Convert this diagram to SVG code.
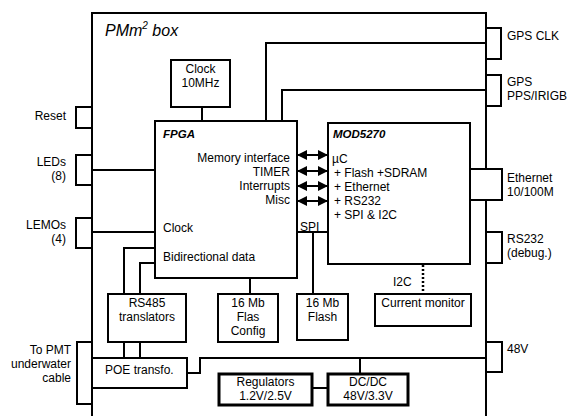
<svg xmlns="http://www.w3.org/2000/svg" width="568" height="416" viewBox="0 0 568 416">
<defs>
<style>
text{font-family:"Liberation Sans",Arial,sans-serif;font-size:12px;fill:#000}
.c{text-anchor:middle}
.r{text-anchor:end}
.bi{font-weight:bold;font-style:italic;font-size:11.5px}
.box{fill:#fff;stroke:#000;stroke-width:2}
.thick{fill:#fff;stroke:#000;stroke-width:3}
.ln{fill:none;stroke:#000;stroke-width:2}
.dot{fill:none;stroke:#000;stroke-width:2.5;stroke-dasharray:2 2}
</style>
<marker id="ah" viewBox="0 0 10 10" refX="9" refY="5" markerWidth="5" markerHeight="5" orient="auto-start-reverse" markerUnits="strokeWidth">
<path d="M0,0 L10,5 L0,10 z" fill="#000"/>
</marker>
</defs>
<rect width="568" height="416" fill="#fff"/>
<g id="enclosure">
<path class="ln" d="M92,416 V13 H486 V416"/>
<text x="105" y="36" style="font-size:16px;font-style:italic">PMm<tspan dy="-7" style="font-size:10px">2</tspan><tspan dy="7"> box</tspan></text>
</g>
<g id="connectors">
<path class="ln" d="M202,107 V121"/>
<path class="ln" d="M266,121 V43 H486"/>
<path class="ln" d="M282,121 V90 H486"/>
<path class="ln" d="M92,170 H155"/>
<path class="ln" d="M92,232 H155"/>
<path class="ln" d="M155,248 H124 V294"/>
<path class="ln" d="M155,263 H140 V294"/>
<path class="ln" d="M124,342 V358"/>
<path class="ln" d="M140,342 V358"/>
<path class="ln" d="M250,278 V294"/>
<path class="ln" d="M297,232 H328"/>
<path class="ln" d="M313,232 V294"/>
<path class="dot" d="M423,265 V294"/>
<path class="ln" d="M187,373 H200 V358 H486"/>
<path class="ln" d="M360,358 V373"/>
<path class="ln" d="M312,388 H328"/>
<path class="ln" d="M298,155 H327" marker-start="url(#ah)" marker-end="url(#ah)"/>
<path class="ln" d="M298,171 H327" marker-start="url(#ah)" marker-end="url(#ah)"/>
<path class="ln" d="M298,186 H327" marker-start="url(#ah)" marker-end="url(#ah)"/>
<path class="ln" d="M298,201 H327" marker-start="url(#ah)" marker-end="url(#ah)"/>
<text x="393" y="286">I2C</text>
</g>
<g id="reset">
<rect class="box" x="76" y="107" width="16" height="21"/>
<text class="r" x="66" y="120">Reset</text>
</g>
<g id="leds">
<rect class="box" x="76" y="155" width="16" height="30"/>
<text class="r" x="66" y="166">LEDs</text>
<text class="r" x="66" y="180">(8)</text>
</g>
<g id="lemos">
<rect class="box" x="76" y="218" width="16" height="30"/>
<text class="r" x="66" y="229">LEMOs</text>
<text class="r" x="66" y="243">(4)</text>
</g>
<g id="pmt">
<rect class="box" x="77" y="342" width="15" height="62"/>
<text class="r" x="71" y="354">To PMT</text>
<text class="r" x="71" y="368">underwater</text>
<text class="r" x="71" y="382">cable</text>
</g>
<g id="gpsclk">
<rect class="box" x="486" y="28" width="15" height="31"/>
<text x="507" y="40">GPS CLK</text>
</g>
<g id="gpspps">
<rect class="box" x="486" y="75" width="15" height="31"/>
<text x="507" y="86">GPS</text>
<text x="507" y="100">PPS/IRIGB</text>
</g>
<g id="ethernet">
<rect class="box" x="470" y="169" width="32" height="31"/>
<text x="507" y="182">Ethernet</text>
<text x="507" y="196">10/100M</text>
</g>
<g id="rs232">
<rect class="box" x="486" y="232" width="16" height="31"/>
<text x="507" y="243">RS232</text>
<text x="507" y="257">(debug.)</text>
</g>
<g id="v48">
<rect class="box" x="486" y="342" width="16" height="30"/>
<text x="507" y="353">48V</text>
</g>
<g id="clock">
<rect class="box" x="171" y="60" width="59" height="47"/>
<text class="c" x="200.5" y="73">Clock</text>
<text class="c" x="200.5" y="87">10MHz</text>
</g>
<g id="fpga">
<rect class="box" x="155" y="121" width="142" height="157"/>
<text class="bi" x="163" y="138">FPGA</text>
<text class="r" x="290" y="162">Memory interface</text>
<text class="r" x="290" y="176">TIMER</text>
<text class="r" x="290" y="190">Interrupts</text>
<text class="r" x="290" y="204">Misc</text>
<text x="163" y="232">Clock</text>
<text x="163" y="261">Bidirectional data</text>
<text x="300" y="231">SPI</text>
</g>
<g id="mod5270">
<rect class="box" x="328" y="123" width="142" height="141"/>
<text class="bi" x="333" y="138">MOD5270</text>
<text x="332" y="163">µC</text>
<text x="334" y="177">+ Flash +SDRAM</text>
<text x="334" y="191">+ Ethernet</text>
<text x="334" y="205">+ RS232</text>
<text x="334" y="219">+ SPI &amp; I2C</text>
</g>
<g id="rs485">
<rect class="box" x="108" y="294" width="78" height="48"/>
<text class="c" x="147" y="307">RS485</text>
<text class="c" x="147" y="321">translators</text>
</g>
<g id="flashconfig">
<rect class="box" x="218" y="294" width="60" height="48"/>
<text class="c" x="248" y="307">16 Mb</text>
<text class="c" x="248" y="321">Flas</text>
<text class="c" x="248" y="335">Config</text>
</g>
<g id="flash">
<rect class="box" x="297" y="294" width="51" height="46"/>
<text class="c" x="322.5" y="307">16 Mb</text>
<text class="c" x="322.5" y="321">Flash</text>
</g>
<g id="currentmonitor">
<rect class="box" x="375" y="294" width="96" height="32"/>
<text class="c" x="423" y="307">Current monitor</text>
</g>
<g id="poe">
<rect class="box" x="92" y="358" width="95" height="30"/>
<text x="105" y="374">POE transfo.</text>
</g>
<g id="regulators">
<rect class="thick" x="219" y="374" width="93" height="31"/>
<text class="c" x="265.5" y="386">Regulators</text>
<text class="c" x="265.5" y="400">1.2V/2.5V</text>
</g>
<g id="dcdc">
<rect class="thick" x="328" y="374" width="80" height="31"/>
<text class="c" x="368" y="386">DC/DC</text>
<text class="c" x="368" y="400">48V/3.3V</text>
</g>
</svg>
